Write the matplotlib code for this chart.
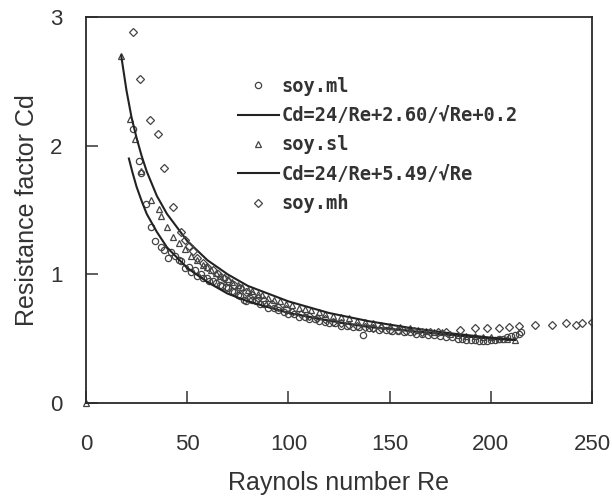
from matplotlib import pyplot as plt

# soy.ml (circles)
re_ml = [23, 26, 27, 29.5, 32, 34, 37, 38.5, 40.5, 42, 44, 46, 47, 49, 51, 52, 54, 55, 57, 58,
         60, 61, 63, 64, 66, 67, 69, 70, 72, 73, 75, 76, 78, 79, 81, 82, 84, 86, 88, 90, 93, 95,
         98, 100, 103, 105, 108, 110, 113, 115, 118, 120, 123, 126, 129, 132, 135, 137, 140, 142,
         145, 148, 151, 154, 157, 160, 163, 166, 169, 172, 175, 178, 181, 184, 186, 188, 190, 192,
         194, 196, 198, 200, 202, 204, 206, 208, 210, 212, 214, 215]
cd_ml = [2.13, 1.88, 1.79, 1.55, 1.37, 1.26, 1.21, 1.19, 1.13, 1.17, 1.14, 1.11, 1.10, 1.05, 1.06, 1.02, 1.03, 0.99, 1.00, 0.97,
         0.97, 0.95, 0.95, 0.93, 0.92, 0.91, 0.90, 0.89, 0.87, 0.86, 0.84, 0.83, 0.80, 0.79, 0.82, 0.80, 0.79, 0.77, 0.77, 0.74, 0.74, 0.72,
         0.71, 0.69, 0.69, 0.67, 0.67, 0.65, 0.65, 0.64, 0.63, 0.62, 0.62, 0.60, 0.60, 0.59, 0.59, 0.53, 0.58, 0.58,
         0.57, 0.57, 0.56, 0.56, 0.55, 0.55, 0.54, 0.54, 0.53, 0.53, 0.52, 0.51, 0.51, 0.50, 0.50, 0.49, 0.49, 0.49,
         0.48, 0.48, 0.48, 0.49, 0.49, 0.50, 0.50, 0.51, 0.52, 0.53, 0.54, 0.55]

# soy.sl (triangles)
re_sl = [0, 17.4, 21.6, 24, 27, 32, 36, 37, 40, 43, 46, 49, 52, 55, 58, 60, 62, 64, 66, 68, 70, 72, 75, 77,
         80, 82, 85, 87, 90, 93, 96, 99, 102, 105, 108, 111, 115, 118, 122, 126, 130, 134, 138, 142, 146,
         150, 155, 160, 164, 168, 172, 176, 180, 184, 188, 192, 196, 200, 204, 208, 212]
cd_sl = [0, 2.70, 2.21, 2.05, 1.80, 1.58, 1.51, 1.45, 1.37, 1.29, 1.24, 1.20, 1.14, 1.11, 1.07, 1.06, 1.03, 1.01, 0.99, 0.98, 0.96, 0.94, 0.92, 0.90,
         0.88, 0.87, 0.85, 0.84, 0.82, 0.80, 0.79, 0.77, 0.76, 0.74, 0.73, 0.72, 0.71, 0.69, 0.68, 0.67, 0.66, 0.64, 0.63, 0.62, 0.61,
         0.60, 0.59, 0.58, 0.57, 0.56, 0.55, 0.55, 0.54, 0.53, 0.52, 0.52, 0.51, 0.51, 0.50, 0.50, 0.49]

# soy.mh (diamonds)
re_mh = [23.2, 26.5, 31.7, 35.5, 38.5, 43, 47, 49, 51, 53, 55, 58, 60, 63, 65, 68, 70, 73, 76, 79, 82, 85, 88,
         92, 95, 99, 102, 106, 110, 114, 118, 122, 126, 130, 134, 138, 142, 146, 150, 154, 158, 162, 166, 170,
         174, 178, 185, 192, 198, 204, 209, 214, 222, 230, 237, 242, 245, 250]
cd_mh = [2.88, 2.52, 2.20, 2.09, 1.83, 1.52, 1.33, 1.27, 1.22, 1.18, 1.13, 1.09, 1.06, 1.03, 1.00, 0.97, 0.95, 0.92, 0.89, 0.86, 0.84, 0.82, 0.80,
         0.77, 0.75, 0.73, 0.71, 0.69, 0.68, 0.66, 0.65, 0.63, 0.62, 0.61, 0.60, 0.59, 0.58, 0.58, 0.57, 0.57, 0.56, 0.56, 0.55, 0.55,
         0.55, 0.55, 0.57, 0.58, 0.58, 0.58, 0.59, 0.60, 0.61, 0.61, 0.62, 0.61, 0.62, 0.63]

# fitted curves
re_fit1 = [21.2, 23, 25, 27.5, 30, 35, 40, 50, 60, 70, 80, 100, 120, 140, 160, 180, 200, 212]
cd_fit1 = [1.90, 1.79, 1.68, 1.57, 1.47, 1.33, 1.21, 1.05, 0.94, 0.85, 0.79, 0.70, 0.64, 0.59, 0.56, 0.53, 0.50, 0.49]
re_fit2 = [17.4, 20, 22.5, 25, 27.5, 30, 35, 40, 50, 60, 70, 80, 100, 120, 140, 160, 180, 200, 212]
cd_fit2 = [2.70, 2.43, 2.22, 2.06, 1.92, 1.80, 1.61, 1.47, 1.26, 1.11, 1.00, 0.91, 0.79, 0.70, 0.635, 0.584, 0.542, 0.508, 0.49]

label_ml = 'soy.ml'
label_fit1 = 'Cd=24/Re+2.60/√Re+0.2'
label_sl = 'soy.sl'
label_fit2 = 'Cd=24/Re+5.49/√Re'
label_mh = 'soy.mh'

txt = '#333333'
mk = '#444444'
plt.rcParams['font.family'] = ['Liberation Sans', 'DejaVu Sans']

fig = plt.figure(figsize=(6.12, 4.97), dpi=100)
ax = fig.add_axes([0.1405, 0.1891, 0.8268, 0.7767])

h_ml, = ax.plot(re_ml, cd_ml, marker='o', linestyle='', markersize=4.5, mfc='none', mec=mk, mew=0.9, label=label_ml)
h_f1, = ax.plot(re_fit1, cd_fit1, color='#222222', lw=1.5, label=label_fit1)
h_sl, = ax.plot(re_sl, cd_sl, marker='^', linestyle='', markersize=4.5, mfc='none', mec=mk, mew=0.9, label=label_sl, clip_on=False)
h_f2, = ax.plot(re_fit2, cd_fit2, color='#222222', lw=1.5, label=label_fit2)
h_mh, = ax.plot(re_mh, cd_mh, marker='D', linestyle='', markersize=3.6, mfc='none', mec=mk, mew=0.9, label=label_mh)

ax.set_xlim(0, 250)
ax.set_ylim(0, 3)
ax.set_xticks([0, 50, 100, 150, 200, 250])
ax.set_yticks([0, 1, 2, 3])
ax.tick_params(direction='in', length=8.5, width=1.1, color='#333333', labelcolor=txt, labelsize=16)
ax.tick_params(axis='x', pad=22)
ax.tick_params(axis='y', pad=17)
for s in ax.spines.values():
    s.set_linewidth(1.3)
    s.set_color('#2a2a2a')

ax.set_xlabel('Raynols number Re', fontsize=18, color=txt, labelpad=12)
ax.set_ylabel('Resistance factor Cd', fontsize=18, color=txt, labelpad=8)

leg = ax.legend(handles=[h_ml, h_f1, h_sl, h_f2, h_mh], loc='upper left', bbox_to_anchor=(0.30, 0.845),
                frameon=False, borderpad=0, borderaxespad=0, handlelength=2.2, handletextpad=0.15,
                labelspacing=0.55, prop={'family': 'DejaVu Sans Mono', 'weight': 'bold', 'size': 13.5})
for t in leg.get_texts():
    t.set_color(txt)

plt.savefig('out.png', dpi=100)
